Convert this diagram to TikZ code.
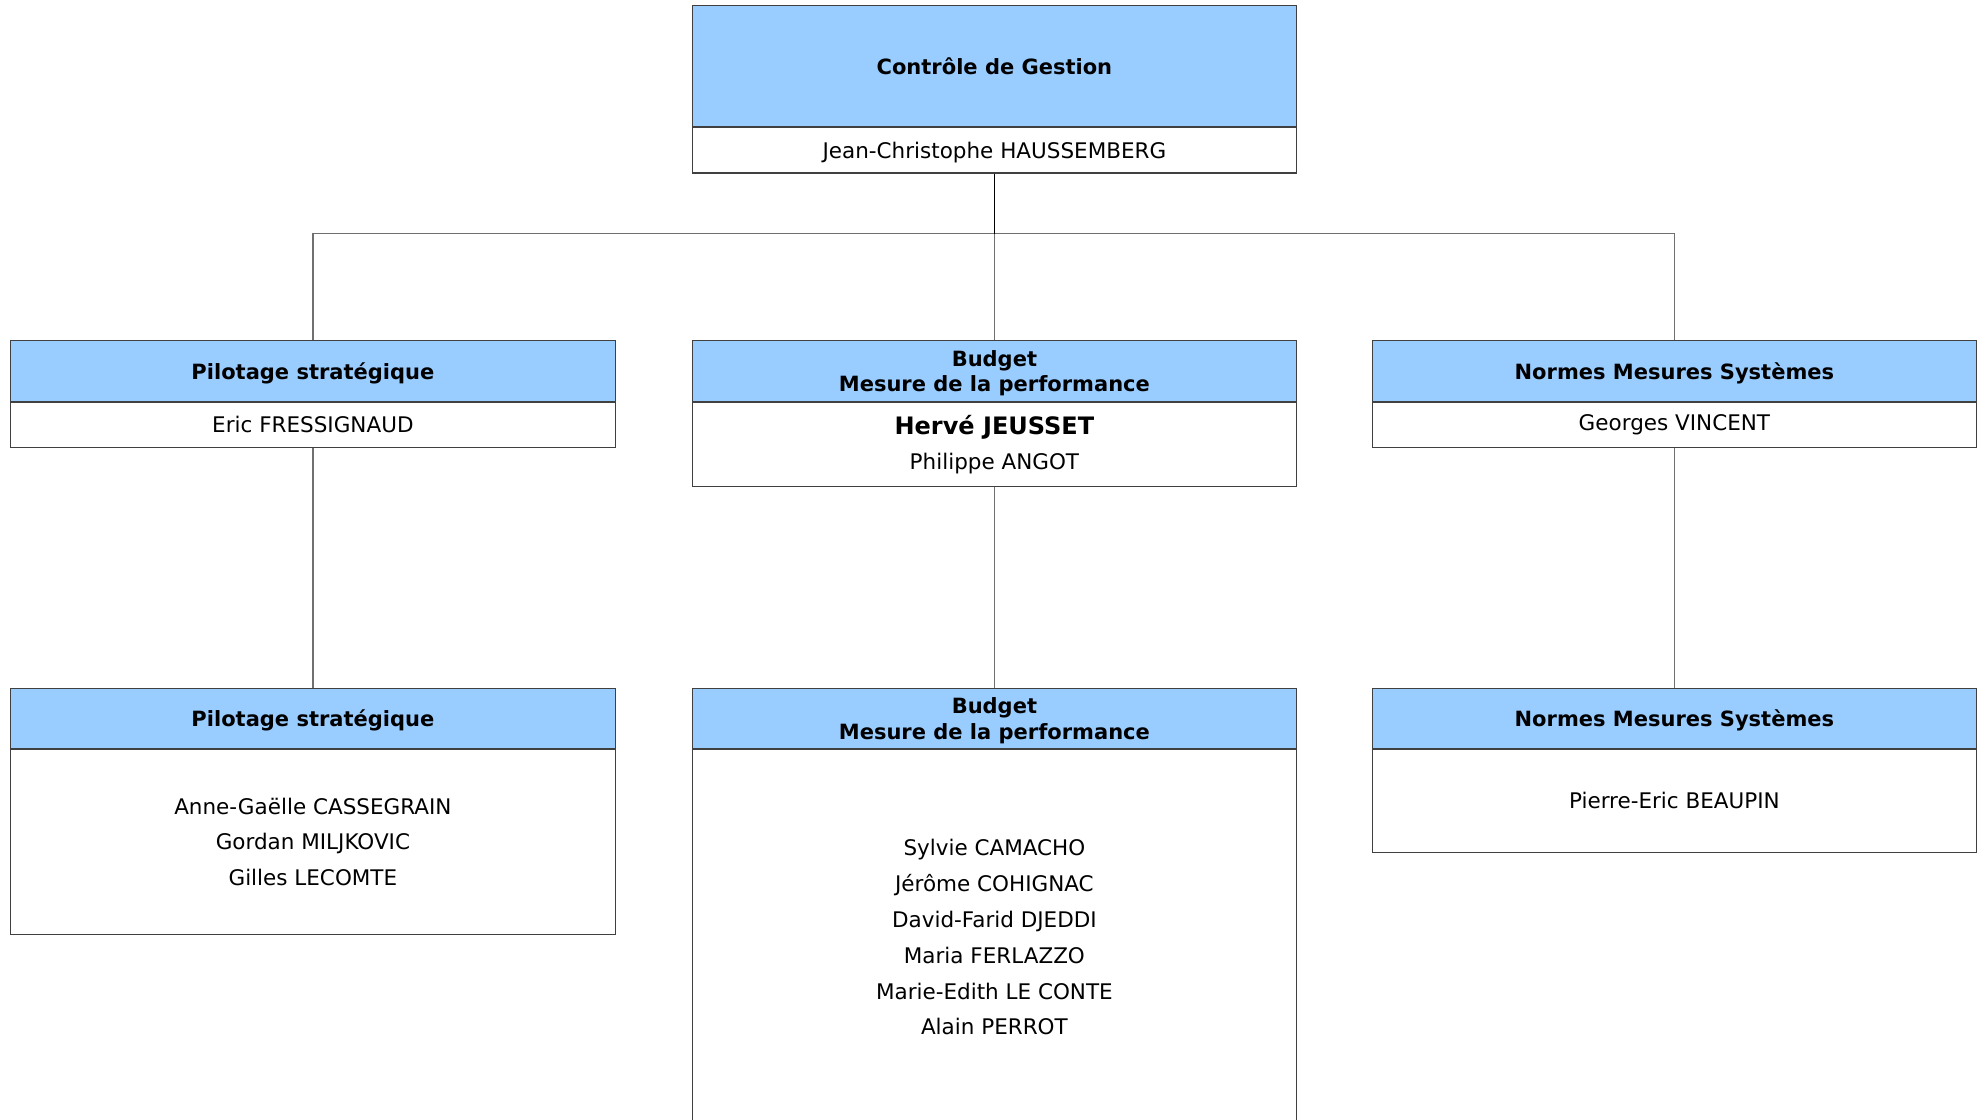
\documentclass[tikz,border=0pt]{standalone}
\usepackage{fontspec}
\setmainfont{DejaVu Sans}
\definecolor{hdrblue}{HTML}{99CCFF}
\definecolor{boxline}{HTML}{404040}
\definecolor{connline}{HTML}{707070}
\begin{document}
\begin{tikzpicture}[x=1pt,y=-1pt,
  box/.style={draw=boxline, line width=1.3pt, rectangle, inner sep=0pt, minimum width=604.5pt, anchor=north west, align=center},
  hdr/.style={box, fill=hdrblue, text depth=0pt, font=\bfseries\fontsize{21}{25.5}\selectfont},
  body/.style={box, fill=white, font=\fontsize{21.5}{35.8}\selectfont},
  conn/.style={draw=connline, line width=1.3pt},
  stem/.style={draw=black, line width=1.6pt}]
\useasboundingbox (0,0) rectangle (1986,1119);
% root
\node[hdr, minimum height=120.5pt] (rootH) at (691.5,5) {Contrôle de Gestion};
\node[body, minimum height=45.5pt, text depth=0pt] (rootB) at (rootH.south west) {Jean-Christophe HAUSSEMBERG};
% level 1
\node[hdr, minimum height=60.5pt] (pilH) at (10,340) {Pilotage stratégique};
\node[body, minimum height=45pt] (pilB) at (pilH.south west) {Eric FRESSIGNAUD};
\node[hdr, minimum height=60.5pt] (budH) at (691.5,340) {Budget\\Mesure de la performance};
\node[body, minimum height=84pt] (budB) at (budH.south west) {{\bfseries\fontsize{24}{30}\selectfont Hervé JEUSSET}\\[-1pt]Philippe ANGOT};
\node[hdr, minimum height=60.5pt] (nmsH) at (1371.5,340) {Normes Mesures Systèmes};
\node[body, minimum height=45pt] (nmsB) at (nmsH.south west) {Georges VINCENT};
% level 2
\node[hdr, minimum height=59.5pt] (pil2H) at (10,688) {Pilotage stratégique};
\node[body, minimum height=185pt] (pil2B) at (pil2H.south west) {Anne-Gaëlle CASSEGRAIN\\Gordan MILJKOVIC\\Gilles LECOMTE};
\node[hdr, minimum height=59.5pt] (bud2H) at (691.5,688) {Budget\\Mesure de la performance};
\node[body, minimum height=376pt] (bud2B) at (bud2H.south west) {Sylvie CAMACHO\\Jérôme COHIGNAC\\David-Farid DJEDDI\\Maria FERLAZZO\\Marie-Edith LE CONTE\\Alain PERROT};
\node[hdr, minimum height=59.5pt] (nms2H) at (1371.5,688) {Normes Mesures Systèmes};
\node[body, minimum height=103pt] (nms2B) at (nms2H.south west) {Pierre-Eric BEAUPIN};
% connectors
\path (rootB.south) ++(0,60) coordinate (busC);
\draw[conn] (pilH.north) |- (busC) -| (nmsH.north);
\draw[conn] (busC) -- (budH.north);
\draw[stem] (rootB.south) -- (busC);
\draw[conn] (pilB.south) -- (pil2H.north);
\draw[conn] (budB.south) -- (bud2H.north);
\draw[conn] (nmsB.south) -- (nms2H.north);
\end{tikzpicture}
\end{document}
